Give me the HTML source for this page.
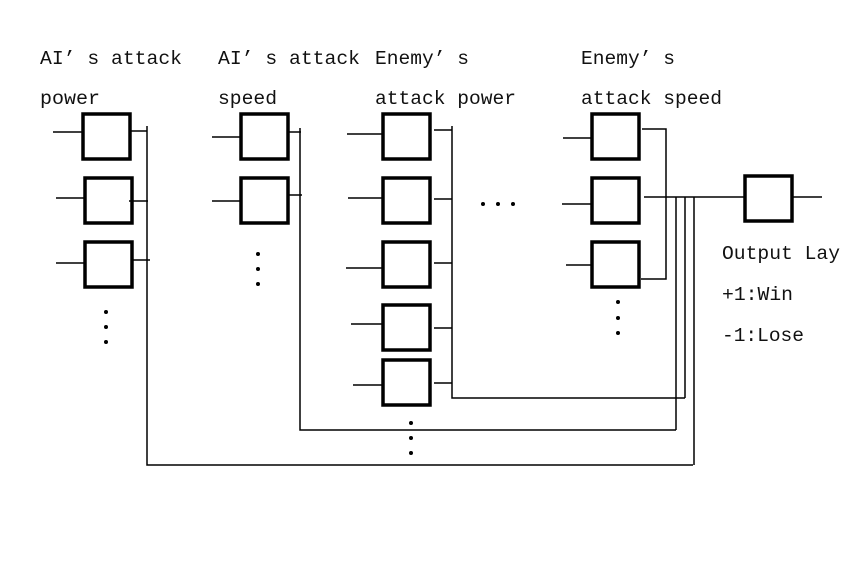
<!DOCTYPE html>
<html><head><meta charset="utf-8"><style>html,body{margin:0;padding:0;background:#fff}svg{display:block}</style></head>
<body>
<svg width="850" height="567" viewBox="0 0 850 567" xmlns="http://www.w3.org/2000/svg">
<rect width="850" height="567" fill="#fff"/>
<g font-family="Liberation Mono, monospace" font-size="19" fill="#111">
<text x="40" y="64" textLength="142" lengthAdjust="spacingAndGlyphs">AI’ s attack</text>
<text x="40" y="104" textLength="60" lengthAdjust="spacingAndGlyphs">power</text>
<text x="218" y="64" textLength="142" lengthAdjust="spacingAndGlyphs">AI’ s attack</text>
<text x="218" y="104" textLength="59" lengthAdjust="spacingAndGlyphs">speed</text>
<text x="375" y="64" textLength="94" lengthAdjust="spacingAndGlyphs">Enemy’ s</text>
<text x="375" y="104" textLength="141" lengthAdjust="spacingAndGlyphs">attack power</text>
<text x="581" y="64" textLength="94" lengthAdjust="spacingAndGlyphs">Enemy’ s</text>
<text x="581" y="104" textLength="141" lengthAdjust="spacingAndGlyphs">attack speed</text>
<text x="722" y="259" textLength="118" lengthAdjust="spacingAndGlyphs">Output Lay</text>
<text x="722" y="300" textLength="71" lengthAdjust="spacingAndGlyphs">+1:Win</text>
<text x="722" y="341" textLength="82" lengthAdjust="spacingAndGlyphs">-1:Lose</text>
</g>
<g fill="none" stroke="#000" stroke-width="3.5">
<rect x="83" y="114" width="47" height="45"/>
<rect x="85" y="178" width="47" height="45"/>
<rect x="85" y="242" width="47" height="45"/>
<rect x="241" y="114" width="47" height="45"/>
<rect x="241" y="178" width="47" height="45"/>
<rect x="383" y="114" width="47" height="45"/>
<rect x="383" y="178" width="47" height="45"/>
<rect x="383" y="242" width="47" height="45"/>
<rect x="383" y="305" width="47" height="45"/>
<rect x="383" y="360" width="47" height="45"/>
<rect x="592" y="114" width="47" height="45"/>
<rect x="592" y="178" width="47" height="45"/>
<rect x="592" y="242" width="47" height="45"/>
<rect x="745" y="176" width="47" height="45"/>
</g>
<g fill="none" stroke="#000" stroke-width="1.5">
<path d="M53 132H83M56 198H85M56 263H85M130 131H147M129 201H148M132 260H150M147 126V465H693"/>
<path d="M212 137H241M212 201H241M288 132H301M288 195H302M300 128V430H676"/>
<path d="M347 134H383M348 198H383M346 268H383M351 324H383M353 385H383M434 130H452M434 199H452M434 263H452M434 328H452M434 383H452M452 126V398H685"/>
<path d="M563 138H592M562 204H592M566 265H592M642 129H666V279H641M644 197H745M792 197H822"/>
<path d="M676 197V430M685 197V398M694 197V465"/>
</g>
<g fill="#000">
<circle cx="106" cy="312" r="2"/><circle cx="106" cy="327" r="2"/><circle cx="106" cy="342" r="2"/>
<circle cx="258" cy="254" r="2"/><circle cx="258" cy="269" r="2"/><circle cx="258" cy="284" r="2"/>
<circle cx="411" cy="423" r="2"/><circle cx="411" cy="438" r="2"/><circle cx="411" cy="453" r="2"/>
<circle cx="618" cy="302" r="2"/><circle cx="618" cy="318" r="2"/><circle cx="618" cy="333" r="2"/>
<circle cx="483" cy="204" r="2"/><circle cx="498" cy="204" r="2"/><circle cx="513" cy="204" r="2"/>
</g>
</svg>
</body></html>
